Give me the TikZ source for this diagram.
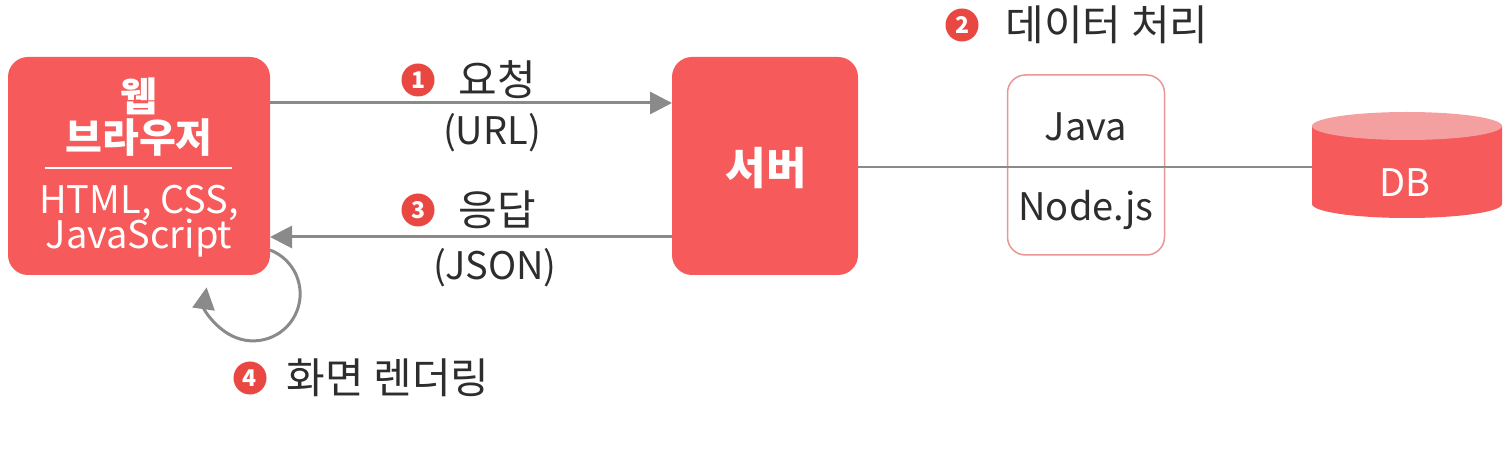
\documentclass[tikz,border=0pt]{standalone}
\usepackage{fontspec}
\setmainfont{Noto Sans CJK KR}
\usetikzlibrary{arrows.meta}
\definecolor{boxred}{RGB}{246,90,90}
\definecolor{numred}{RGB}{233,72,66}
\definecolor{toppink}{RGB}{245,160,160}
\definecolor{linegray}{RGB}{138,138,138}
\definecolor{txt}{RGB}{45,45,45}
\definecolor{frame}{RGB}{232,150,150}
\tikzset{
  redbox/.style={draw=none,fill=boxred,rounded corners=20pt,inner sep=0pt},
  num/.style={circle,fill=numred,text=white,inner sep=0pt,minimum size=33pt,font=\fontsize{23}{23}\selectfont\bfseries},
  lbl/.style={text=txt,font=\fontsize{42}{42}\selectfont,inner sep=0pt},
  latin/.style={font=\fontsize{38}{38}\selectfont},
  wlbl/.style={text=white,inner sep=0pt},
  conn/.style={draw=linegray,line width=3pt,-{Triangle[length=22pt,width=22pt]}},
  plain/.style={draw=linegray,line width=2.5pt}
}
\begin{document}
\begin{tikzpicture}[x=1pt,y=-1pt]
\useasboundingbox (0,0) rectangle (1508,454);
% browser box
\node[redbox,minimum width=262pt,minimum height=218pt] (browser) at (139,166) {};
\node[wlbl,font=\fontsize{40}{40}\selectfont\bfseries] (web) at (139,96) {웹};
\node[wlbl,font=\fontsize{40}{40}\selectfont\bfseries] (brw) at (139,138) {브라우저};
\coordinate (sepL) at (45,168);
\coordinate (sepR) at (232,168);
\draw[white,line width=1.5pt] (sepL) -- (sepR);
\node[wlbl,latin] (html) at (139,203) {HTML, CSS,};
\node[wlbl,latin] (js) at (139,238) {JavaScript};
% server
\node[redbox,minimum width=186pt,minimum height=218pt] (server) at (765,166) {};
\node[wlbl,font=\fontsize{44}{44}\selectfont\bfseries] (srv) at (766,168) {서버};
% arrows
\coordinate (reqS) at (270,103);
\coordinate (reqE) at (672,103);
\draw[conn] (reqS) -- (reqE);
\coordinate (resS) at (672,237);
\coordinate (resE) at (270,237);
\draw[conn] (resS) -- (resE);
\node[num] (n1) at (418,80) {1};
\node[lbl] (req) at (497,80) {요청};
\node[lbl,latin] (url) at (492,133) {(URL)};
\node[num] (n3) at (418,210) {3};
\node[lbl] (res) at (497,210) {응답};
\node[lbl,latin] (json) at (495,268) {(JSON)};
% java box
\node[draw=frame,line width=1.5pt,fill=white,rounded corners=18pt,minimum width=157pt,minimum height=180pt,inner sep=0pt] (proc) at (1086,165) {};
% DB cylinder
\fill[boxred] (1312,126) -- (1312,204) arc[start angle=180,end angle=0,x radius=95,y radius=14] -- (1502,126) -- cycle;
\fill[toppink] (1407,126) ellipse[x radius=95,y radius=14];
\coordinate (dbL) at (1312,167);
\node[wlbl,latin] (db) at (1405,183) {DB};
\draw[plain] (server.east |- 0,167) -- (dbL);
\node[lbl,latin] (java) at (1086,127) {Java};
\node[lbl,latin] (node) at (1086,210) {Node.js};
\node[num] (n2) at (962,25) {2};
\node[lbl] (proc2) at (1107,25) {데이터 처리};
% loop
\coordinate (loopS) at (270,250);
\draw[conn] (loopS) arc[start angle=-69,end angle=188,radius=47];
\node[num] (n4) at (250,378) {4};
\node[lbl] (render) at (388,378) {화면 렌더링};
\end{tikzpicture}
\end{document}
